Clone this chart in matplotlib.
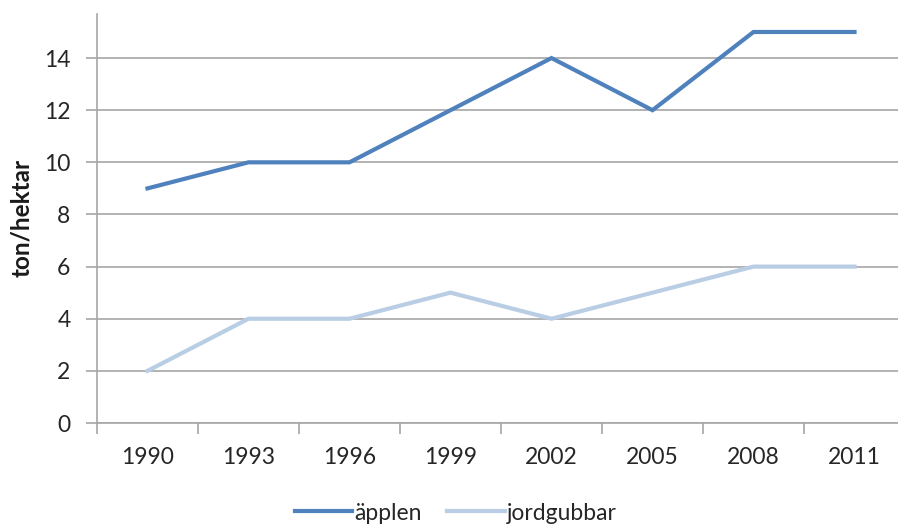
import matplotlib
matplotlib.use("Agg")
import matplotlib.pyplot as plt
from matplotlib.ticker import FixedLocator, NullFormatter

# Data
years = ["1990", "1993", "1996", "1999", "2002", "2005", "2008", "2011"]
applen = [9, 10, 10, 12, 14, 12, 15, 15]
jordgubbar = [2, 4, 4, 5, 4, 5, 6, 6]

plt.rcParams['font.family'] = ['Lato', 'DejaVu Sans']

fig = plt.figure(figsize=(8.98, 5.26), dpi=100)
W, H = 898, 526
# axes spans pixels x 97..905 (clipped on the right), y 14..423
ax = fig.add_axes([97 / W, 1 - 423 / H, 808 / W, 409 / H])

x = range(len(years))
ax.plot(x, applen, color="#4F81BD", lw=3, label="äpplen", solid_joinstyle="miter")
ax.plot(x, jordgubbar, color="#B9CDE5", lw=3, label="jordgubbar", solid_joinstyle="miter")

ax.set_xlim(-0.5, len(years) - 0.5)
ax.set_ylim(0, 15.69)
ax.set_yticks(range(0, 16, 2))
ax.yaxis.grid(True, color="#A6A6A6", lw=1.2)
ax.set_axisbelow(True)

ax.set_xticks(list(x))
ax.set_xticklabels(years)
ax.tick_params(axis="x", which="major", length=0, labelsize=16.5, pad=17, colors="#262626")
ax.xaxis.set_minor_locator(FixedLocator([i - 0.5 for i in range(len(years) + 1)]))
ax.xaxis.set_minor_formatter(NullFormatter())
ax.tick_params(axis="x", which="minor", length=8, width=1.2, color="#A6A6A6")
ax.tick_params(axis="y", length=8, width=1.2, color="#A6A6A6", labelsize=16.5, pad=11, labelcolor="#262626")

for side in ["top", "right"]:
    ax.spines[side].set_visible(False)
for side in ["left", "bottom"]:
    ax.spines[side].set_color("#A6A6A6")
    ax.spines[side].set_linewidth(1.2)

fig.text(22 / W, 1 - 218 / H, "ton/hektar", rotation=90, fontsize=17.5, fontweight="bold",
         ha="center", va="center", color="#1a1a1a")

fig.legend(loc="center", bbox_to_anchor=(456 / W, 1 - 513 / H), ncol=2, frameon=False,
           fontsize=16.5, handlelength=2.5, handletextpad=0.1, columnspacing=1.1,
           labelcolor="#262626")

fig.savefig("out.png", dpi=100)
